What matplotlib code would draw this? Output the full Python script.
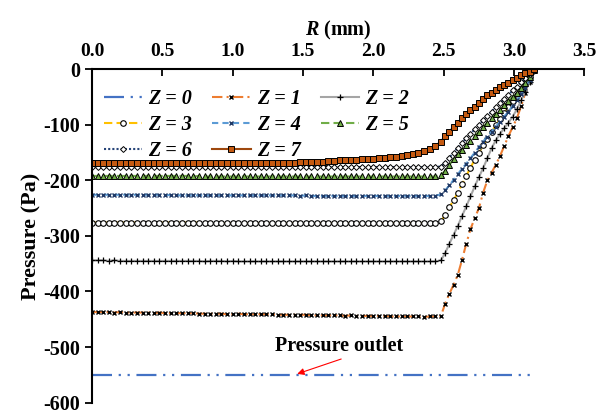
import matplotlib
matplotlib.use('Agg')
import matplotlib.pyplot as plt

# Fonts (Times-like bold serif, like the Excel original)
plt.rcParams['font.family'] = 'Liberation Serif'
plt.rcParams['font.weight'] = 'bold'
plt.rcParams['axes.unicode_minus'] = False
plt.rcParams['mathtext.fontset'] = 'custom'
plt.rcParams['mathtext.it'] = 'Liberation Serif:italic:bold'
plt.rcParams['mathtext.rm'] = 'Liberation Serif:bold'

# ---- data ----
# radial positions (mm): flat part then the rising part near the wall
R_flat = [0.00, 0.04, 0.08, 0.12, 0.16, 0.20, 0.24, 0.28, 0.32, 0.36, 0.40, 0.44, 0.48, 0.52, 0.56, 0.60,
          0.64, 0.68, 0.72, 0.76, 0.80, 0.84, 0.88, 0.92, 0.96, 1.00, 1.04, 1.08, 1.12, 1.16, 1.20, 1.24,
          1.28, 1.32, 1.36, 1.40, 1.44, 1.48, 1.52, 1.56, 1.60, 1.64, 1.68, 1.72, 1.76, 1.80, 1.84, 1.88,
          1.92, 1.96, 2.00, 2.04, 2.08, 2.12, 2.16, 2.20, 2.24, 2.28, 2.32, 2.36, 2.40, 2.44, 2.48]
R_rise = [2.51, 2.54, 2.57, 2.60, 2.63, 2.66, 2.69, 2.72, 2.75, 2.78, 2.81,
          2.84, 2.87, 2.90, 2.93, 2.96, 2.99, 3.02, 3.05, 3.08, 3.11, 3.14]
R = R_flat + R_rise

# Z = 0 is the pressure outlet line
R0 = [0.0, 3.15]
P0 = [-550, -550]

P1 = [-437, -437, -437, -437, -438, -437, -438, -438, -438, -438, -438, -439, -438, -439, -439, -439,
      -439, -439, -439, -440, -440, -440, -440, -440, -441, -441, -440, -441, -441, -441, -441, -441,
      -441, -442, -442, -442, -442, -442, -442, -443, -443, -443, -443, -443, -443, -444, -443, -444,
      -444, -444, -444, -444, -444, -445, -445, -445, -445, -445, -445, -446, -445, -445, -444,
      -422, -404, -388, -370, -343, -314, -288, -268, -250, -222, -200,
      -186, -172, -156, -138, -120, -104, -88, -66, -42, -22, -3]
P2 = [-344, -344, -344, -345, -344, -345, -345, -345, -345, -345, -345, -345, -345, -345, -345, -345,
      -345, -345, -345, -345, -346, -345, -345, -345, -346, -345, -346, -346, -346, -346, -346, -346,
      -346, -346, -346, -346, -346, -346, -346, -346, -346, -346, -346, -346, -346, -346, -346, -346,
      -346, -346, -346, -346, -346, -346, -346, -346, -346, -346, -346, -346, -346, -346, -344,
      -331, -314, -298, -282, -264, -247, -229, -211, -194, -178, -160,
      -142, -128, -116, -106, -96, -85, -72, -56, -40, -22, -3]
P3 = [-276, -276, -276, -276, -276, -276, -276, -276, -276, -276, -276, -276, -276, -276, -276, -276,
      -276, -276, -276, -276, -276, -277, -276, -277, -277, -277, -277, -277, -277, -277, -277, -277,
      -277, -277, -277, -277, -277, -277, -277, -277, -277, -277, -277, -277, -277, -277, -277, -277,
      -277, -277, -277, -277, -277, -277, -277, -277, -277, -277, -277, -277, -277, -277, -274,
      -262, -248, -236, -222, -207, -192, -177, -163, -150, -137, -125,
      -113, -101, -90, -79, -68, -57, -46, -35, -24, -13, -2]
P4 = [-226, -226, -226, -226, -226, -226, -226, -226, -226, -226, -226, -226, -226, -227, -226, -227,
      -227, -227, -227, -227, -227, -227, -227, -227, -227, -227, -227, -227, -227, -227, -227, -227,
      -227, -227, -227, -227, -227, -228, -227, -228, -228, -228, -228, -228, -228, -228, -228, -228,
      -228, -228, -228, -228, -228, -228, -228, -228, -228, -228, -228, -228, -228, -228, -225,
      -218, -209, -199, -189, -179, -170, -160, -150, -140, -130, -121,
      -112, -103, -94, -85, -76, -66, -56, -45, -33, -20, -3]
P5 = [-192, -192, -192, -192, -192, -192, -192, -192, -192, -192, -192, -192, -192, -192, -192, -192,
      -192, -192, -193, -192, -193, -193, -193, -193, -193, -193, -193, -193, -193, -193, -193, -193,
      -193, -193, -193, -193, -193, -193, -193, -193, -193, -193, -193, -193, -193, -193, -193, -193,
      -193, -193, -193, -193, -193, -193, -193, -193, -193, -193, -193, -193, -193, -193, -190,
      -183, -172, -162, -153, -145, -137, -129, -120, -112, -104, -96,
      -88, -80, -73, -65, -57, -49, -43, -34, -24, -13, -2]
P6 = [-176, -176, -176, -176, -176, -176, -176, -176, -176, -176, -176, -176, -176, -176, -176, -176,
      -176, -176, -176, -176, -176, -176, -176, -176, -176, -176, -176, -176, -176, -176, -176, -176,
      -176, -176, -176, -176, -176, -176, -176, -176, -176, -176, -176, -176, -176, -176, -176, -176,
      -176, -176, -176, -176, -176, -176, -176, -176, -176, -176, -176, -176, -176, -176, -175,
      -168, -159, -150, -141, -132, -124, -116, -108, -100, -92, -84,
      -76, -68, -61, -53, -46, -38, -31, -23, -16, -8, -1]
P7 = [-168, -168, -168, -168, -168, -168, -168, -168, -168, -168, -168, -168, -168, -168, -168, -168,
      -168, -168, -168, -168, -168, -168, -168, -168, -168, -168, -168, -168, -168, -168, -168, -168,
      -168, -168, -168, -168, -168, -167, -167, -166, -166, -166, -165, -165, -164, -164, -163, -163,
      -162, -161, -161, -160, -159, -158, -157, -156, -155, -153, -150, -147, -143, -138, -130,
      -120, -112, -104, -96, -88, -81, -74, -67, -60, -53, -47,
      -42, -37, -32, -28, -24, -19, -15, -11, -7, -4, 0]

labels = ['Z = 0', 'Z = 1', 'Z = 2', 'Z = 3', 'Z = 4', 'Z = 5', 'Z = 6', 'Z = 7']

# ---- plot ----
fig = plt.figure(figsize=(5.97, 4.15), dpi=100)
ax = fig.add_axes([0.154, 0.03, 0.825, 0.803])

ax.plot(R0, P0, color='#4472C4', lw=1.6, ls=(0, (9, 3, 1, 3, 1, 3)), label=labels[0])
ax.plot(R, P1, color='#ED7D31', lw=1.5, ls=(0, (5, 2, 1, 2)), marker='x', ms=3.5,
        mec='black', mew=1.0, label=labels[1])
ax.plot(R, P2, color='#A5A5A5', lw=1.5, marker='+', ms=4.5, mec='black', mew=0.9, label=labels[2])
ax.plot(R, P3, color='#FFC000', lw=1.5, ls=(0, (4, 2)), marker='o', ms=4, mfc='white',
        mec='black', mew=0.8, label=labels[3])
ax.plot(R, P4, color='#5B9BD5', lw=1.5, ls=(0, (3, 2)), marker='x', ms=3.5,
        mec='#1F3864', mew=1.0, label=labels[4])
ax.plot(R, P5, color='#70AD47', lw=1.5, ls=(0, (4, 2)), marker='^', ms=4, mfc='#70AD47',
        mec='black', mew=0.7, label=labels[5])
ax.plot(R, P6, color='#264478', lw=1.5, ls=(0, (1, 1)), marker='D', ms=3, mfc='white',
        mec='black', mew=0.7, label=labels[6])
ax.plot(R, P7, color='#9E480E', lw=1.5, marker='s', ms=4, mfc='#C55A11',
        mec='black', mew=0.7, label=labels[7])

# axes: x on top, only left and top spines
ax.set_xlim(0, 3.5)
ax.set_ylim(-600, 0)
ax.set_xticks([0.0, 0.5, 1.0, 1.5, 2.0, 2.5, 3.0, 3.5])
ax.set_xticklabels(['0.0', '0.5', '1.0', '1.5', '2.0', '2.5', '3.0', '3.5'])
ax.set_yticks([-600, -500, -400, -300, -200, -100, 0])
ax.xaxis.tick_top()
ax.xaxis.set_label_position('top')
ax.spines['right'].set_visible(False)
ax.spines['bottom'].set_visible(False)
ax.spines['top'].set_linewidth(1.5)
ax.spines['left'].set_linewidth(1.5)
ax.tick_params(axis='x', direction='in', length=5, width=1.3, labelsize=14, pad=7)
ax.tick_params(axis='y', direction='out', length=5, width=1.3, labelsize=14.5)
for t in ax.get_xticklabels() + ax.get_yticklabels():
    t.set_fontweight('bold')

ax.set_xlabel(r'$R$ (mm)', fontsize=14.5, fontweight='bold', labelpad=5)
ax.set_ylabel('Pressure (Pa)', fontsize=16, fontweight='bold', labelpad=1)

# legend filled row by row, like the original
handles, lbls = ax.get_legend_handles_labels()
order = [0, 3, 6, 1, 4, 7, 2, 5]
leg = ax.legend([handles[i] for i in order], [lbls[i] for i in order],
                loc='upper left', bbox_to_anchor=(0.0, 0.978), ncol=3, frameon=False,
                handlelength=1.9, handletextpad=0.3, columnspacing=1.0, labelspacing=0.3,
                borderaxespad=0.2,
                prop={'family': 'Liberation Serif', 'style': 'italic', 'weight': 'bold', 'size': 14.5})

# pressure outlet note
ax.text(1.76, -499, 'Pressure outlet', ha='center', va='center', fontsize=14.5, fontweight='bold')
ax.annotate('', xy=(1.44, -550), xytext=(1.79, -520),
            arrowprops=dict(arrowstyle='-|>', color='red', lw=0.8, mutation_scale=10))

plt.savefig('out.png', dpi=100)
